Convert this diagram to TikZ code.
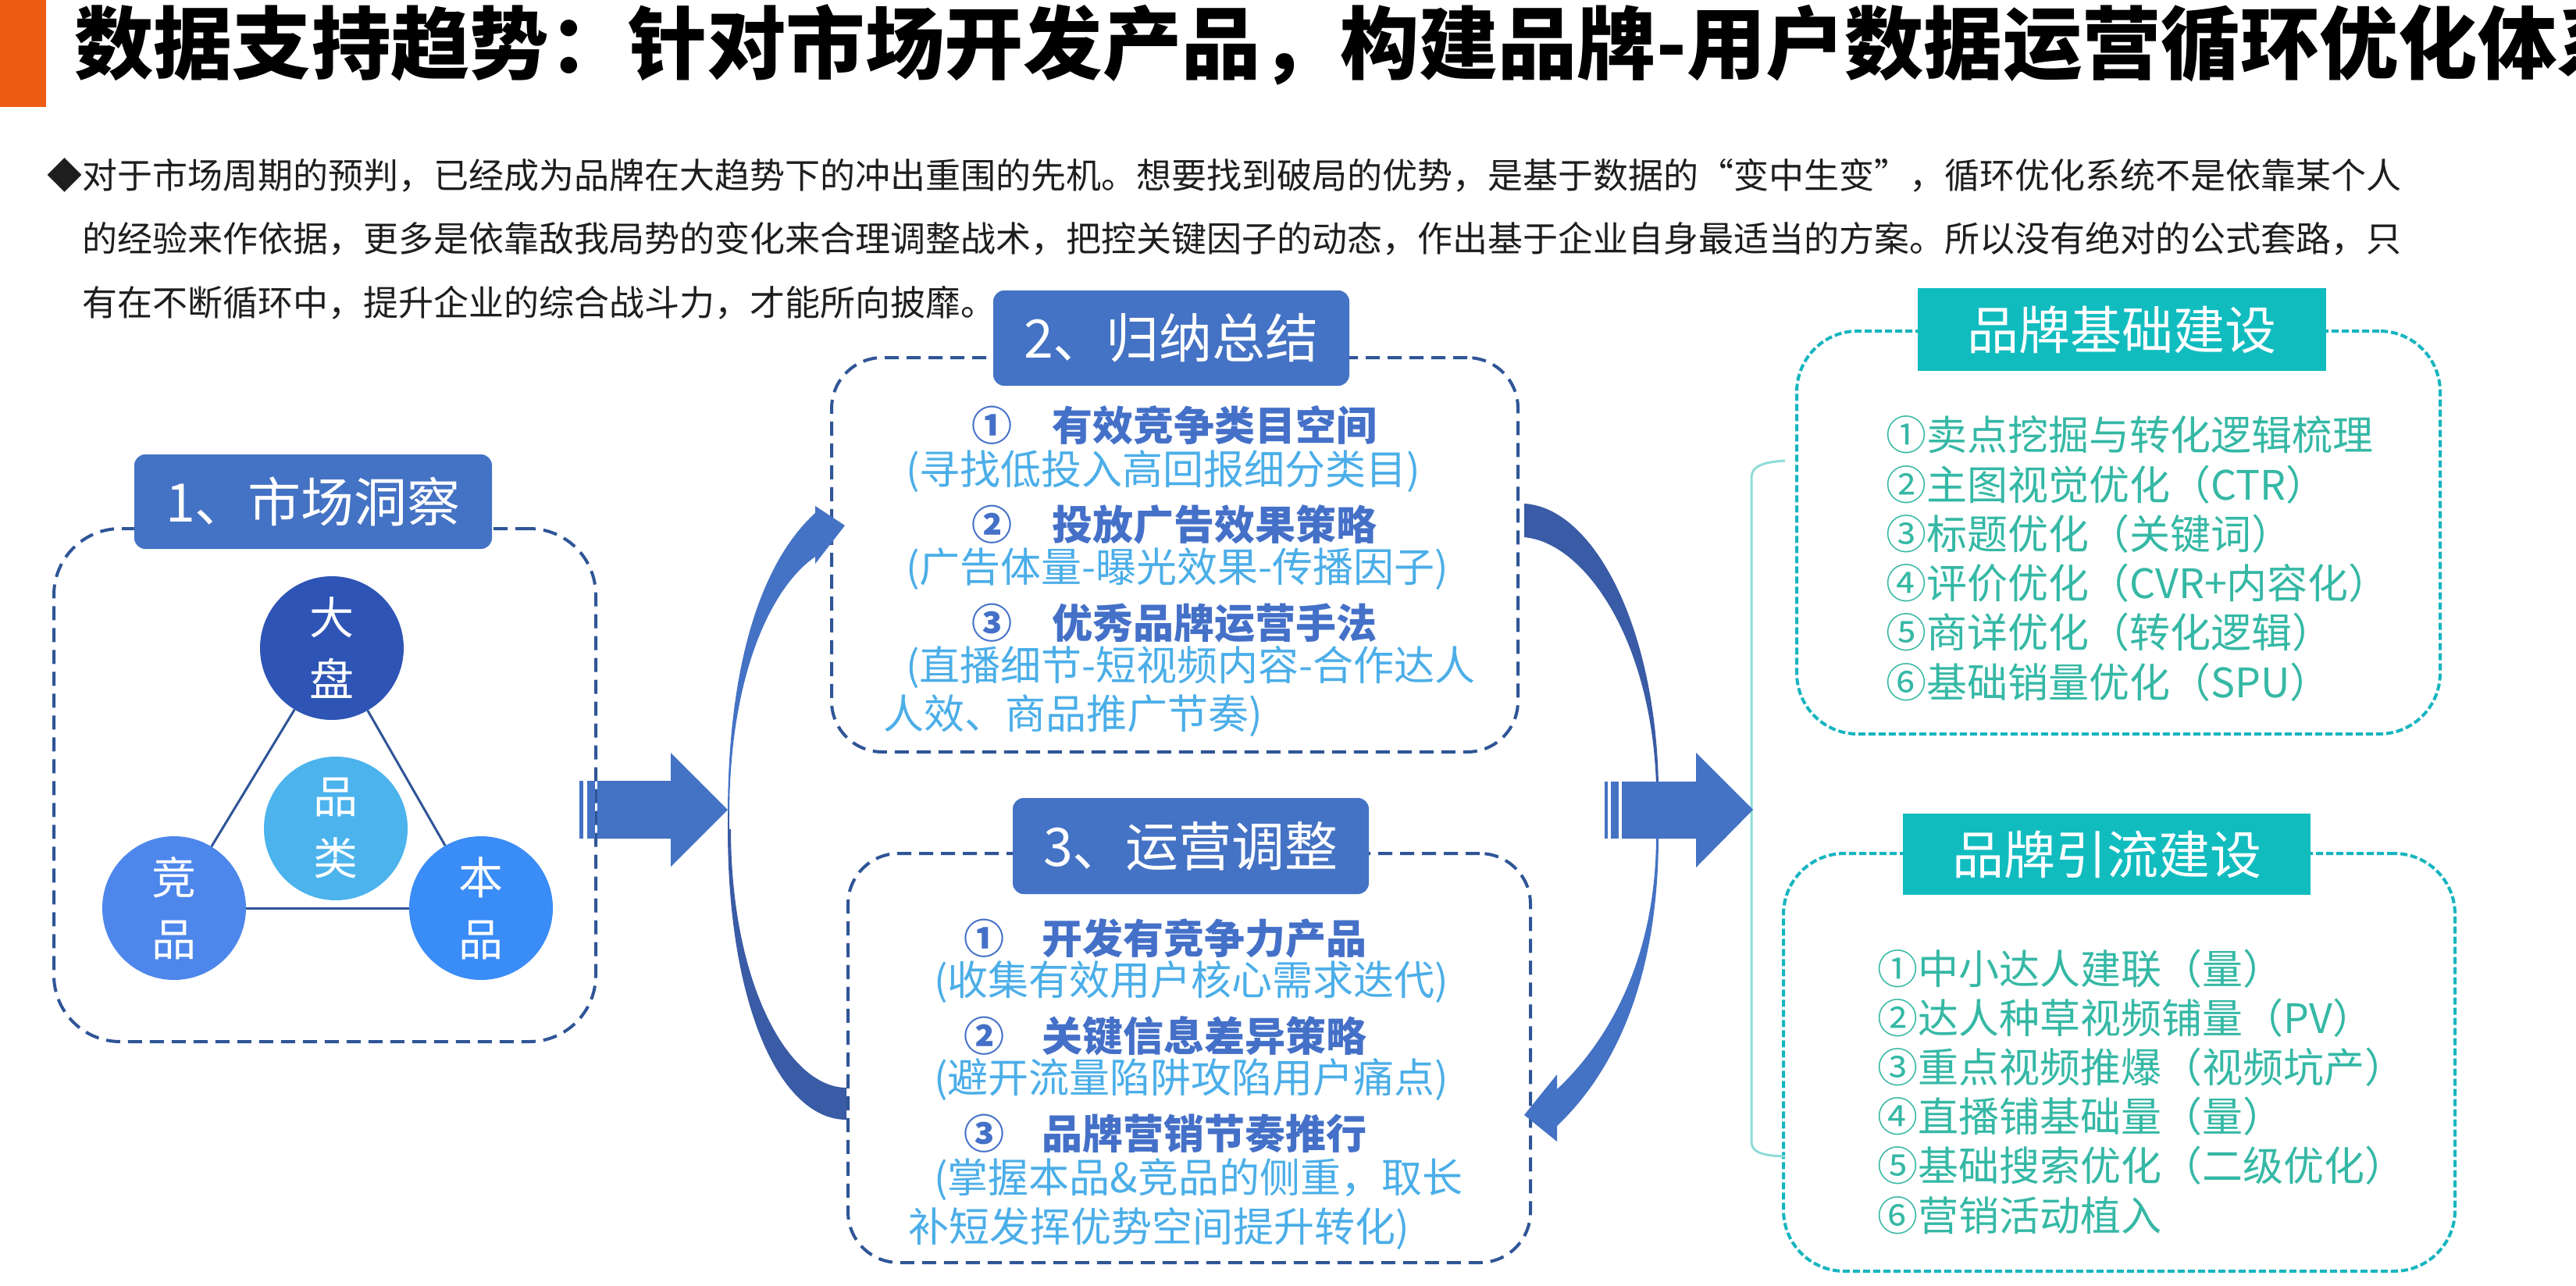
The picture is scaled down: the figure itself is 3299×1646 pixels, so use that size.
\documentclass[tikz,border=0pt]{standalone}
\usepackage{fontspec}
\newfontfamily\cjk{Noto Sans CJK SC}
\definecolor{orangebar}{HTML}{EE5B13}
\definecolor{lblue}{HTML}{4472C4}
\definecolor{dblue}{HTML}{2F5597}
\definecolor{arrowdark}{HTML}{3A5BA5}
\definecolor{cdp}{HTML}{2E55B5}
\definecolor{cpl}{HTML}{4CB3ED}
\definecolor{cjp}{HTML}{4E87EB}
\definecolor{cbp}{HTML}{3A8CF6}
\definecolor{boldtxt}{HTML}{4470C8}
\definecolor{lighttxt}{HTML}{4BAEE8}
\definecolor{tealfill}{HTML}{11BCBF}
\definecolor{tealline}{HTML}{16B5BF}
\definecolor{tealtxt}{HTML}{35B8A5}
\definecolor{bracketc}{HTML}{8FDCD8}
\definecolor{bodyc}{HTML}{1E1E1E}
\begin{document}
\begin{tikzpicture}[x=1pt,y=-1pt,
  lbl/.style={fill=lblue, rounded corners=14pt, inner sep=0pt, text=white, font=\cjk\fontsize{68}{68}\selectfont},
  tlbl/.style={fill=tealfill, inner sep=0pt, text=white, font=\cjk\fontsize{66}{66}\selectfont},
  bluebox/.style={draw=dblue, line width=4pt, dash pattern=on 18pt off 10pt, rounded corners=65pt, inner sep=0pt},
  tealbox/.style={draw=tealline, line width=4pt, dash pattern=on 9pt off 4pt, rounded corners=78pt, inner sep=0pt},
  circ/.style={circle, minimum size=184pt, inner sep=0pt, text=white, align=center, font=\cjk\fontsize{57}{79}\selectfont},
  tri/.style={draw=dblue, line width=3pt},
  itemb/.style={anchor=base west, inner sep=0pt, text=boldtxt, font=\cjk\fontsize{52}{60}\selectfont\bfseries},
  iteml/.style={anchor=base west, inner sep=0pt, text=lighttxt, font=\cjk\fontsize{52}{60}\selectfont},
  titem/.style={anchor=base west, inner sep=0pt, text=tealtxt, font=\cjk\fontsize{52}{60}\selectfont},
  bodytxt/.style={anchor=base west, inner sep=0pt, text=bodyc, font=\cjk\fontsize{45}{50}\selectfont},
  titletxt/.style={anchor=base west, inner sep=0pt, text=black, font=\cjk\fontsize{101.3}{110}\selectfont\bfseries},
  bracketline/.style={draw=bracketc, line width=3pt}
]
\useasboundingbox (0,0) rectangle (3299,1646);
\fill[white] (0,0) rectangle (3299,1646);

% header
\fill[orangebar] (0,0) rectangle (59,137);
\begin{scope}
\clip (0,0) rectangle (3299,1646);
\node[titletxt] (title) at (95,93) {数据支持趋势：针对市场开发产品，构建品牌-用户数据运营循环优化体系};
\end{scope}
\node[bodytxt] (p1) at (60,241) {◆对于市场周期的预判，已经成为品牌在大趋势下的冲出重围的先机。想要找到破局的优势，是基于数据的“变中生变”，循环优化系统不是依靠某个人};
\node[bodytxt] (p2) at (105,322) {的经验来作依据，更多是依靠敌我局势的变化来合理调整战术，把控关键因子的动态，作出基于企业自身最适当的方案。所以没有绝对的公式套路，只};
\node[bodytxt] (p3) at (105,404) {有在不断循环中，提升企业的综合战斗力，才能所向披靡。};

% box 1
\node[bluebox, rounded corners=85pt, minimum width=694pt, minimum height=657pt] (box1) at (416,1005.5) {};
\node[lbl, minimum width=458pt, minimum height=121pt] (lab1) at (401,642.5) {1、市场洞察};
\node[circ, fill=cdp] (dp) at (425,830) {大\\盘};
\node[circ, fill=cpl] (pl) at (430,1061) {品\\类};
\node[circ, fill=cjp] (jp) at (223,1163) {竞\\品};
\node[circ, fill=cbp] (bp) at (616,1163) {本\\品};
\draw[tri] (dp) -- (jp);
\draw[tri] (dp) -- (bp);
\draw[tri] (jp) -- (bp);

% box 2
\node[bluebox, minimum width=879pt, minimum height=505pt] (box2) at (1504.5,710.5) {};
\node[lbl, minimum width=456pt, minimum height=122pt] (lab2) at (1500,433) {2、归纳总结};
\node[itemb] (b2i1) at (1244,564) {①\hspace{51pt}有效竞争类目空间};
\node[iteml] (b2s1) at (1160,620) {(寻找低投入高回报细分类目)};
\node[itemb] (b2i2) at (1244,691) {②\hspace{51pt}投放广告效果策略};
\node[iteml] (b2s2) at (1160,745) {(广告体量-曝光效果-传播因子)};
\node[itemb] (b2i3) at (1244,817) {③\hspace{51pt}优秀品牌运营手法};
\node[iteml] (b2s3) at (1160,871) {(直播细节-短视频内容-合作达人};
\node[iteml] (b2s4) at (1131,933) {人效、商品推广节奏)};

% box 3
\node[bluebox, minimum width=874pt, minimum height=524pt] (box3) at (1523,1355) {};
\node[lbl, minimum width=456pt, minimum height=123pt] (lab3) at (1525,1083.5) {3、运营调整};
\node[itemb] (b3i1) at (1234,1221) {①\hspace{48pt}开发有竞争力产品};
\node[iteml] (b3s1) at (1196,1274) {(收集有效用户核心需求迭代)};
\node[itemb] (b3i2) at (1234,1346) {②\hspace{48pt}关键信息差异策略};
\node[iteml] (b3s2) at (1196,1399) {(避开流量陷阱攻陷用户痛点)};
\node[itemb] (b3i3) at (1234,1471) {③\hspace{48pt}品牌营销节奏推行};
\node[iteml] (b3s3) at (1196,1527) {(掌握本品\&竞品的侧重，取长};
\node[iteml] (b3s4) at (1163,1590) {补短发挥优势空间提升转化)};

% teal box A
\node[tealbox, minimum width=824pt, minimum height=516pt] (boxA) at (2713,682) {};
\node[tlbl, minimum width=523pt, minimum height=106pt] (labA) at (2717.5,422) {品牌基础建设};
\node[titem] (a1) at (2415,576) {①卖点挖掘与转化逻辑梳理};
\node[titem] (a2) at (2415,640) {②主图视觉优化（CTR）};
\node[titem] (a3) at (2415,703) {③标题优化（关键词）};
\node[titem] (a4) at (2415,766) {④评价优化（CVR+内容化）};
\node[titem] (a5) at (2415,829) {⑤商详优化（转化逻辑）};
\node[titem] (a6) at (2415,893) {⑥基础销量优化（SPU）};

% teal box B
\node[tealbox, minimum width=860pt, minimum height=535pt] (boxB) at (2714,1360.5) {};
\node[tlbl, minimum width=522pt, minimum height=104pt] (labB) at (2698,1094) {品牌引流建设};
\node[titem] (c1) at (2404,1260) {①中小达人建联（量）};
\node[titem] (c2) at (2404,1323) {②达人种草视频铺量（PV）};
\node[titem] (c3) at (2404,1386) {③重点视频推爆（视频坑产）};
\node[titem] (c4) at (2404,1449) {④直播铺基础量（量）};
\node[titem] (c5) at (2404,1512) {⑤基础搜索优化（二级优化）};
\node[titem] (c6) at (2404,1576) {⑥营销活动植入};

% bracket
\draw[bracketline] (2286,590) .. controls (2255,592) and (2243,598) .. (2243,612) -- (2243,1462) .. controls (2243,1475) and (2255,1480) .. (2286,1481);

% left curved arrow
\fill[lblue] (932,1045) .. controls (932,850) and (975,720) .. (1044,657) -- (1044,648) -- (1082,673) -- (1044,722) -- (1044,713) .. controls (990,750) and (934,860) .. (934,1045) -- cycle;
\fill[arrowdark] (932,1062) .. controls (932,1290) and (1000,1434) .. (1084,1434) -- (1084,1393) .. controls (1010,1393) and (936,1260) .. (936,1062) -- cycle;
\draw[arrowdark, line width=1.5pt] (932.8,1040) -- (932.8,1066);

% right curved arrow
\fill[arrowdark] (1952,645) .. controls (2040,650) and (2120,800) .. (2124,1005) -- (2121,1005) .. controls (2115,820) and (2030,695) .. (1952,688) -- cycle;
\fill[lblue] (2124,1070) .. controls (2124,1250) and (2070,1370) .. (1994,1442) -- (1994,1462) -- (1952,1428) -- (1994,1376) -- (1994,1395) .. controls (2058,1335) and (2121,1230) .. (2121,1070) -- cycle;

% striped block arrows
\fill[lblue] (742,1000) rectangle (747,1074);
\fill[lblue] (752,1000) rectangle (762,1074);
\fill[lblue] (765,1000) -- (859,1000) -- (859,964) -- (932,1037) -- (859,1110) -- (859,1074) -- (765,1074) -- cycle;
\fill[lblue] (2055,1001) rectangle (2059,1074);
\fill[lblue] (2063,1001) rectangle (2073,1074);
\fill[lblue] (2077,1001) -- (2172,1001) -- (2172,964) -- (2245,1037) -- (2172,1111) -- (2172,1074) -- (2077,1074) -- cycle;
\end{tikzpicture}
\end{document}
